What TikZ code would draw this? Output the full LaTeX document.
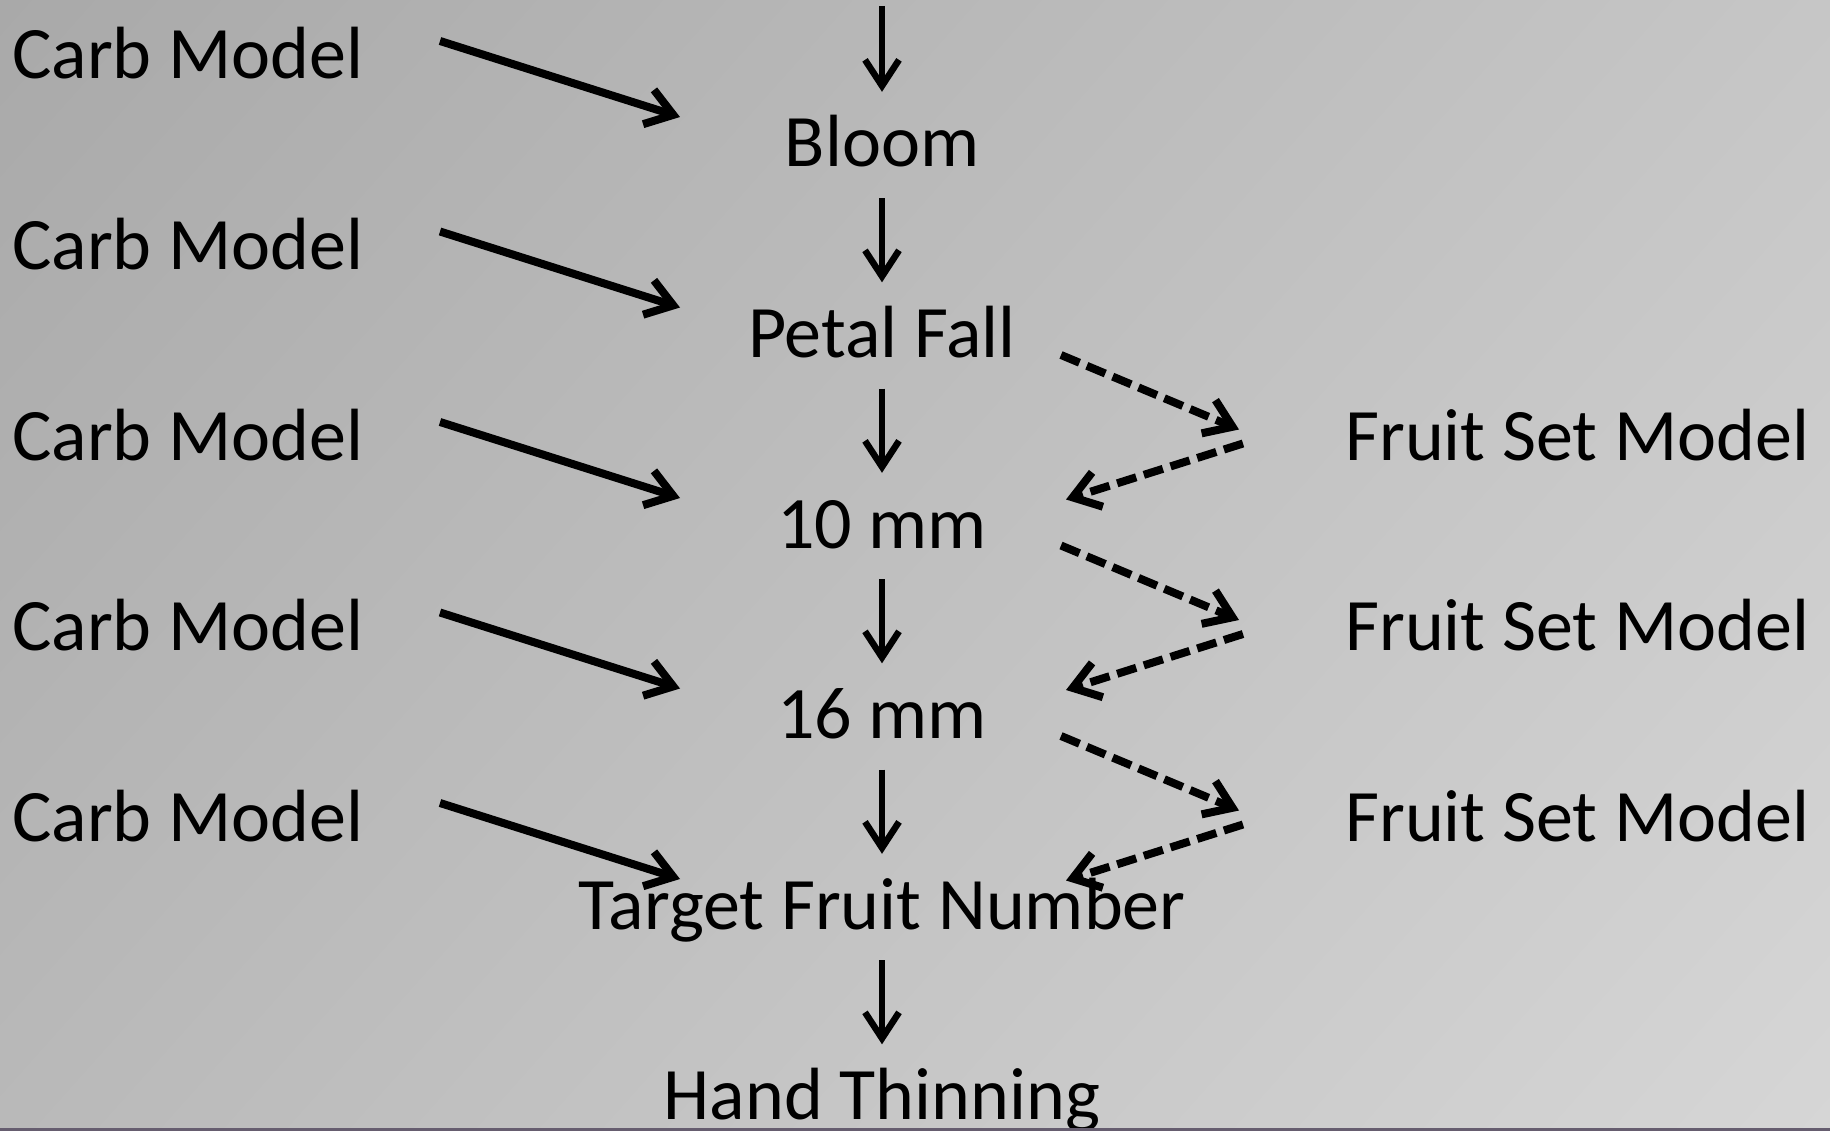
\documentclass[tikz,border=0pt]{standalone}
\usepackage{fontspec}
\setmainfont{Carlito}
\usetikzlibrary{arrows.meta,shadings}
\definecolor{bgTL}{HTML}{A9A9A9}
\definecolor{bgTR}{HTML}{C6C6C6}
\definecolor{bgBL}{HTML}{B9B9B9}
\definecolor{bgBR}{HTML}{D6D6D6}
\definecolor{edgeline}{HTML}{665D6F}
\tikzset{
  lbl/.style={font=\fontsize{74}{90}\selectfont, inner xsep=0pt, inner ysep=15pt,
    text height=60pt, text depth=16pt, text=black},
  varrow/.style={draw=black, line width=6.5pt,
    -{Straight Barb[length=26pt, width=34pt, line width=6.5pt]}},
  carbarrow/.style={draw=black, line width=8pt,
    -{Straight Barb[length=26pt, width=36pt, line width=8pt]}},
  fsarrow/.style={draw=black, line width=8pt, dash pattern=on 20pt off 8pt,
    -{Straight Barb[length=26pt, width=36pt, line width=8pt]}},
}
\begin{document}
\begin{tikzpicture}[x=1pt,y=-1pt]
\useasboundingbox (0,0) rectangle (1830,1131);
\shade[upper left=bgTL, upper right=bgTR, lower left=bgBL, lower right=bgBR]
  (0,0) rectangle (1830,1131);

% centre column
\node[lbl, anchor=base] (bloom)  at (882,167)    {Bloom};
\node[lbl, anchor=base] (petal)  at (882,357.5)  {Petal Fall};
\node[lbl, anchor=base] (mmten)  at (882,548)    {10 mm};
\node[lbl, anchor=base] (mmsixteen) at (882,738.5) {16 mm};
\node[lbl, anchor=base] (target) at (882,929)    {Target Fruit Number};
\node[lbl, anchor=base] (hand)   at (882,1119.5) {Hand Thinning};
\coordinate (topin) at (882,6);

\draw[varrow] (topin) -- (bloom.north);
\draw[varrow] (bloom.south) -- (petal.north);
\draw[varrow] (petal.south) -- (mmten.north);
\draw[varrow] (mmten.south) -- (mmsixteen.north);
\draw[varrow] (mmsixteen.south) -- (target.north);
\draw[varrow] (target.south) -- (hand.north);

% carb models
\foreach \i in {0,...,4} {
  \pgfmathsetmacro\yy{79+190.5*\i}
  \node[lbl, anchor=base west] (carb\i) at (12,\yy) {Carb Model};
  \coordinate (cs\i) at (440,\yy-38);
  \coordinate (ce\i) at (680,\yy+38);
  \draw[carbarrow] (cs\i) -- (ce\i);
}

% fruit set models
\foreach \k in {0,1,2} {
  \pgfmathsetmacro\yy{460+190.5*\k}
  \node[lbl, anchor=base west] (fs\k) at (1345,\yy) {Fruit Set Model};
  \coordinate (fo\k) at (1061,\yy-105);
  \coordinate (fi\k) at (1239,\yy-30.5);
  \coordinate (bo\k) at (1243,\yy-16.5);
  \coordinate (bi\k) at (1066,\yy+39.5);
  \draw[fsarrow] (fo\k) -- (fi\k);
  \draw[fsarrow] (bo\k) -- (bi\k);
}

\fill[edgeline] (0,1128) rectangle (1830,1131);
\end{tikzpicture}
\end{document}
